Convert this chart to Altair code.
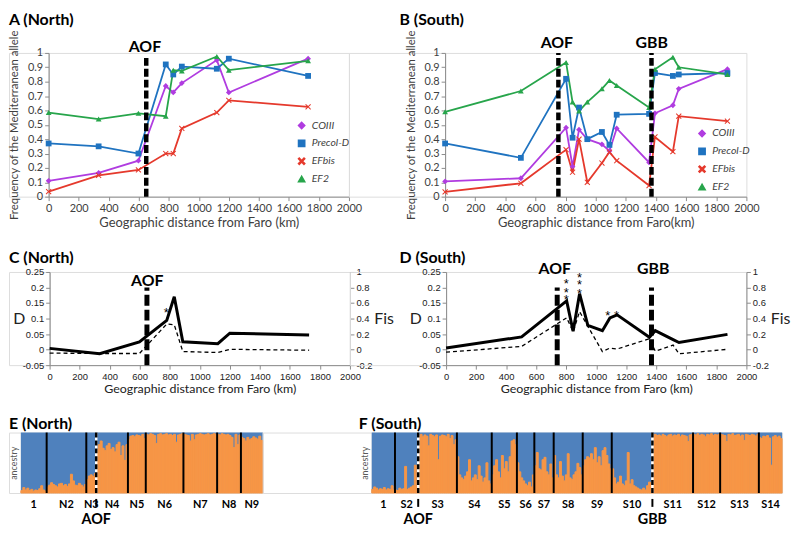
import altair as alt
import pandas as pd

# ------------------------------------------------------------------ data
SERIES = ["COIII", "Precol-D", "EFbis", "EF2"]

north_km = [0, 333, 598, 780, 830, 887, 1120, 1200, 1728]
north_coiii = [0.11, 0.165, 0.25, 0.77, 0.725, 0.79, 0.95, 0.725, 0.96]
north_precol = [0.37, 0.35, 0.30, 0.92, 0.85, 0.905, 0.89, 0.96, 0.84]
north_efbis = [0.035, 0.148, 0.186, 0.30, 0.30, 0.475, 0.585, 0.67, 0.625]
north_ef2 = [0.585, 0.54, 0.58, 0.56, 0.88, 0.875, 0.975, 0.88, 0.945]

south_km = [0, 503, 803, 846, 889, 944, 1041, 1091, 1139, 1354, 1393, 1512, 1551, 1874]
south_coiii = [0.106, 0.128, 0.48, 0.21, 0.466, 0.40, 0.364, 0.318, 0.475, 0.238, 0.58, 0.636, 0.75, 0.887]
south_precol = [0.37, 0.27, 0.82, 0.41, 0.62, 0.40, 0.45, 0.36, 0.57, 0.576, 0.86, 0.84, 0.85, 0.86]
south_efbis = [0.033, 0.093, 0.327, 0.17, 0.40, 0.10, 0.234, 0.31, 0.25, 0.077, 0.415, 0.313, 0.56, 0.525]
south_ef2 = [0.59, 0.735, 0.934, 0.658, 0.596, 0.658, 0.75, 0.808, 0.773, 0.62, 0.887, 0.97, 0.90, 0.85]

north_D = [0.004, -0.013, 0.025, 0.094, 0.17, 0.025, 0.019, 0.053, 0.047]
north_Fis = [-0.045, -0.05, -0.05, 0.33, 0.32, -0.025, -0.037, 0.004, -0.008]
south_D = [0.005, 0.041, 0.157, 0.059, 0.18, 0.078, 0.061, 0.102, 0.112, 0.040, 0.061, 0.032, 0.023, 0.049]
south_Fis = [-0.033, 0.041, 0.41, 0.23, 0.49, 0.30, -0.025, 0.02, 0.008, 0.14, -0.02, 0.058, -0.054, 0.004]

# significance stars (one entry per asterisk)
north_star_km = [776]
north_star_D = [0.127]
south_star_km = [800, 800, 800, 889, 889, 889, 1076, 1135]
south_star_D = [0.22, 0.193, 0.168, 0.241, 0.217, 0.19, 0.117, 0.117]

# zone boundaries (km) and label positions
A_zone_km = [650]
A_zone_top = [0.97]
A_label_km = [641]
A_labels = ["AOF"]
B_zone_km = [752, 1370]
B_zone_top = [1.0, 1.0]
B_label_km = [742, 1371]
B_labels = ["AOF", "GBB"]
C_zone_km = [648]
C_label_km = [650]
C_labels = ["AOF"]
D_zone_km = [740, 1368]
D_label_km = [724, 1380]
D_labels = ["AOF", "GBB"]

# STRUCTURE ancestry (fraction of the orange cluster per individual)
north_pops = ["1", "N2", "N3", "N4", "N5", "N6", "N7", "N8", "N9"]
north_orange = [
    [0.04, 0.09, 0.05, 0.08, 0.04, 0.06, 0.03, 0.05, 0.04, 0.07, 0.12, 0.05, 0.03],
    [0.10, 0.13, 0.17, 0.14, 0.12, 0.10, 0.15, 0.16, 0.12, 0.14, 0.11, 0.15, 0.31, 0.20, 0.13, 0.12, 0.16, 0.13, 0.10, 0.14],
    [0.22, 0.28, 0.30, 0.27, 0.32],
    [0.72, 0.80, 0.86, 0.74, 0.70, 0.78, 0.82, 0.72, 0.75, 0.68, 0.80, 0.84, 0.62, 0.78, 0.54, 0.80],
    [0.88, 0.94, 0.95, 0.93, 0.96, 0.95, 0.94, 0.97, 0.90],
    [0.97, 0.96, 0.98, 0.97, 0.95, 0.82, 0.97, 0.98, 0.96, 0.97, 0.98, 0.96, 0.97, 0.95, 0.97, 0.84, 0.96, 0.97, 0.98],
    [0.97, 0.96, 0.95, 0.86, 0.97, 0.88, 0.96, 0.97, 0.98, 0.97, 0.96, 0.97, 0.98, 0.96, 0.97, 0.98, 0.97],
    [0.97, 0.96, 0.98, 0.97, 0.96, 0.97, 0.95, 0.92, 0.75, 0.97, 0.80, 0.96],
    [0.92, 0.90, 0.86, 0.92, 0.88, 0.90, 0.93, 0.91, 0.89, 0.94, 0.87],
]
north_zone_after = {"AOF": "N3"}

south_pops = ["1", "S2", "S3", "S4", "S5", "S6", "S7", "S8", "S9", "S10", "S11", "S12", "S13", "S14"]
south_orange = [
    [0.06, 0.10, 0.08, 0.05, 0.07, 0.06, 0.09, 0.05, 0.07, 0.06, 0.12, 0.05],
    [0.05, 0.04, 0.08, 0.06, 0.07, 0.44, 0.06, 0.08, 0.10, 0.12, 0.46, 0.10],
    [0.95, 0.97, 0.93, 0.96, 0.94, 0.78, 0.97, 0.95, 0.93, 0.96, 0.55, 0.94, 0.96, 0.95, 0.93, 0.97, 0.90, 0.95, 0.80, 0.88],
    [0.60, 0.30, 0.25, 0.22, 0.28, 0.35, 0.55, 0.20, 0.25, 0.30, 0.22, 0.45, 0.28, 0.18, 0.25, 0.50, 0.20, 0.15],
    [0.30, 0.45, 0.55, 0.35, 0.25, 0.62, 0.40, 0.52, 0.35, 0.60, 0.86, 0.88, 0.80],
    [0.50, 0.35, 0.25, 0.20, 0.15, 0.12, 0.18, 0.10, 0.30],
    [0.45, 0.67, 0.40, 0.38, 0.55, 0.59, 0.35, 0.30, 0.48, 0.25],
    [0.62, 0.30, 0.25, 0.52, 0.28, 0.20, 0.30, 0.65, 0.25, 0.22, 0.30, 0.35, 0.49, 0.42, 0.30],
    [0.45, 0.55, 0.60, 0.58, 0.65, 0.55, 0.75, 0.50, 0.60, 0.45, 0.70, 0.75, 0.62, 0.48, 0.40],
    [0.40, 0.25, 0.15, 0.18, 0.28, 0.15, 0.12, 0.20, 0.67, 0.15, 0.22, 0.12, 0.10, 0.08, 0.06, 0.05, 0.08, 0.05, 0.12, 0.18, 0.15],
    [0.96, 0.97, 0.95, 0.96, 0.94, 0.97, 0.95, 0.93, 0.96, 0.97, 0.94, 0.96, 0.95, 0.97, 0.93, 0.96, 0.95, 0.94, 0.85, 0.96, 0.97],
    [0.97, 0.96, 0.98, 0.95, 0.97, 0.96, 0.93, 0.97, 0.96, 0.98, 0.95, 0.97, 0.96, 0.97],
    [0.97, 0.96, 0.95, 0.85, 0.97, 0.96, 0.98, 0.95, 0.96, 0.97, 0.94, 0.96, 0.87, 0.97, 0.96, 0.95, 0.97, 0.96, 0.94, 0.97],
    [0.92, 0.90, 0.94, 0.93, 0.95, 0.91, 0.46, 0.93, 0.95, 0.92, 0.94, 0.90],
]
south_zone_after = {"AOF": "S2", "GBB": "S10"}

X_TICKS = [0, 200, 400, 600, 800, 1000, 1200, 1400, 1600, 1800, 2000]
FREQ_TICKS = [0, 0.1, 0.2, 0.3, 0.4, 0.5, 0.6, 0.7, 0.8, 0.9, 1]
D_TICKS = [-0.05, 0, 0.05, 0.1, 0.15, 0.2, 0.25]
FIS_TICKS = [-0.2, 0, 0.2, 0.4, 0.6, 0.8, 1]

# ------------------------------------------------------------------ style
COLORS = ["#B03CE0", "#1F73C0", "#E5392C", "#27A54B"]
XPATH = ("M-1,-0.75L-0.75,-1L0,-0.25L0.75,-1L1,-0.75L0.25,0L1,0.75L0.75,1"
         "L0,0.25L-0.75,1L-1,0.75L-0.25,0Z")
SHAPES = ["diamond", "square", XPATH, "triangle-up"]
BLUE = "#4F81BD"
ORANGE = "#F79646"
FONT = "Lato"
SMALL = "Liberation Sans"
AXC = "#8c8c8c"
TXT = "#404040"
MINUS = "replace(datum.label, '\u2212', '-')"


def spacer(w, h, top=0, bottom=0):
    # invisible block: flush size w x h; its full extent reaches `top` px above
    # and `bottom` px below, which fixes the row band in the outer layout
    return (alt.Chart(pd.DataFrame({"a": [0]}))
            .mark_rect(opacity=0)
            .encode(x=alt.value(0), x2=alt.value(max(w, 1)),
                    y=alt.value(-top), y2=alt.value(h + bottom))
            .properties(width=w, height=h))


def title_text(text, dx, dy, size=16):
    return (alt.Chart(pd.DataFrame({"t": [text]}))
            .mark_text(font=FONT, fontSize=size, fontWeight="bold", align="left",
                       baseline="alphabetic", color="black")
            .encode(x=alt.value(dx), y=alt.value(dy), text="t:N"))


def freq_panel(km, vals, zone_km, zone_top, label_km, labels, label_dy,
               xtitle, ptitle, title_dx, leg_x, leg_y, w, h):
    df = pd.DataFrame([{"km": k, "series": s, "value": v}
                       for s, arr in zip(SERIES, vals) for k, v in zip(km, arr)])
    xsc = alt.Scale(domain=[0, 2000], nice=False, zero=False)
    ysc = alt.Scale(domain=[0, 1], nice=False, zero=False)
    common = dict(grid=False, tickSize=4, tickColor=AXC, domainColor=AXC,
                  labelColor=TXT, labelFont=FONT, labelFontSize=11, labelPadding=2,
                  titleFont=FONT, titleFontWeight="normal", titleColor=TXT,
                  labelOverlap=False, labelFlush=False)
    xax = alt.Axis(values=X_TICKS, format="d", title=xtitle, titleFontSize=13,
                   titlePadding=3, **common)
    yax = alt.Axis(values=FREQ_TICKS, format="~g", title="Frequency of the Mediterranean allele",
                   titleFontSize=11.5, titleAngle=270, titleX=-34, titleY=h / 2,
                   titleBaseline="middle", titleAlign="center", **common)
    cscale = alt.Scale(domain=SERIES, range=COLORS)
    sscale = alt.Scale(domain=SERIES, range=SHAPES)
    leg = alt.Legend(orient="none", legendX=leg_x, legendY=leg_y, title=None,
                     labelFont=FONT, labelFontSize=10.5, labelFontStyle="italic",
                     labelColor=TXT, symbolSize=40, rowPadding=5, labelOffset=5)
    X = alt.X("km:Q", scale=xsc, axis=xax)
    Y = alt.Y("value:Q", scale=ysc, axis=yax)
    base = alt.Chart(df)
    lines = base.mark_line(strokeWidth=1.8).encode(
        x=X, y=Y, color=alt.Color("series:N", scale=cscale, legend=leg), detail="series:N")
    pts = base.mark_point(filled=True, size=34, opacity=1).encode(
        x=X, y=Y,
        color=alt.Color("series:N", scale=cscale, legend=leg),
        shape=alt.Shape("series:N", scale=sscale, legend=leg))
    rdf = pd.DataFrame({"km": zone_km, "value": [0] * len(zone_km), "top": zone_top})
    rules = alt.Chart(rdf).mark_rule(color="black", strokeWidth=4.5, strokeDash=[8, 3]).encode(
        x=X, y=Y, y2="top:Q")
    tdf = pd.DataFrame({"km": label_km, "t": labels})
    texts = alt.Chart(tdf).mark_text(font=FONT, fontSize=16, fontWeight="bold",
                                     baseline="alphabetic", color="black").encode(
        x=X, y=alt.value(label_dy), text="t:N")
    return alt.layer(lines, pts, rules, texts, title_text(ptitle, title_dx, -28)).properties(width=w, height=h)


def dfis_panel(km, D, Fis, zone_km, label_km, labels, label_dy, star_km, star_D,
               ptitle, title_dx, w, h):
    xsc = alt.Scale(domain=[0, 2000], nice=False, zero=False)
    dsc = alt.Scale(domain=[-0.05, 0.25], nice=False, zero=False)
    fsc = alt.Scale(domain=[-0.2, 1], nice=False, zero=False)
    dd = pd.DataFrame({"km": km, "D": D, "Fis": Fis})
    common = dict(grid=False, tickSize=4, tickColor=AXC, domainColor=AXC,
                  labelColor="#222222", labelFont=SMALL, labelFontSize=9.5,
                  labelPadding=2, titleFont=FONT, titleFontWeight="normal",
                  titleColor="#222222", labelOverlap=False, labelFlush=False)
    xax = alt.Axis(values=X_TICKS, format="d", title="Geographic distance from Faro (km)",
                   titleFontSize=12.5, titlePadding=2, **common)
    dax = alt.Axis(values=D_TICKS, format="~g", labelExpr=MINUS, title="D", titleFontSize=16,
                   titleAngle=0, titleX=-31, titleY=h / 2, titleBaseline="middle",
                   titleAlign="center", **common)
    fax = alt.Axis(orient="right", values=FIS_TICKS, format="~g", labelExpr=MINUS, title="Fis",
                   titleFontSize=16, titleAngle=0, titleX=34, titleY=h / 2,
                   titleBaseline="middle", titleAlign="center", **common)
    X = alt.X("km:Q", scale=xsc, axis=xax)
    YD = alt.Y("D:Q", scale=dsc, axis=dax)
    dline = alt.Chart(dd).mark_line(color="black", strokeWidth=3).encode(x=X, y=YD)
    rdf = pd.DataFrame({"km": zone_km, "D": [-0.05] * len(zone_km), "top": [0.2] * len(zone_km)})
    rules = alt.Chart(rdf).mark_rule(color="black", strokeWidth=5, strokeDash=[11, 4]).encode(
        x=X, y=YD, y2="top:Q")
    tdf = pd.DataFrame({"km": label_km, "t": labels})
    texts = alt.Chart(tdf).mark_text(font=FONT, fontSize=16, fontWeight="bold",
                                     baseline="alphabetic", color="black").encode(
        x=X, y=alt.value(label_dy), text="t:N")
    sdf = pd.DataFrame({"km": star_km, "D": star_D})
    stars = alt.Chart(sdf).mark_text(text="*", font=SMALL, fontSize=13, fill="black",
                                     baseline="middle", dy=3).encode(x=X, y=YD)
    left = alt.layer(dline, rules, texts, stars, title_text(ptitle, title_dx, -9))
    fline = alt.Chart(dd).mark_line(color="black", strokeWidth=1.3, strokeDash=[4, 3]).encode(
        x=X, y=alt.Y("Fis:Q", scale=fsc, axis=fax))
    return alt.layer(left, fline).resolve_scale(y="independent").properties(width=w, height=h)


def ancestry_panel(names, orange, zone_after, ptitle, title_dx, w, h):
    bars, bounds, mids = [], [], []
    i = 0
    for name, vals in zip(names, orange):
        s = i
        for v in vals:
            bars.append({"i0": i, "i1": i + 1, "f": v})
            i += 1
        bounds.append(i)
        mids.append((s + i) / 2)
    n = i
    zone_idx = {z: bounds[names.index(p)] for z, p in zone_after.items()}
    solid = [b for b in bounds[:-1] if b not in zone_idx.values()]
    xsc = alt.Scale(domain=[0, n], nice=False, zero=False)
    ysc = alt.Scale(domain=[0, 1], nice=False, zero=False)
    yax = alt.Axis(title="ancestry", labels=False, ticks=False, domain=False, grid=False,
                   titleX=-7, titleY=h / 2, titleAngle=270, titleBaseline="middle",
                   titleAlign="center", titleFont=FONT, titleFontSize=9,
                   titleFontWeight="normal", titleColor="#595959")
    xax = alt.Axis(labels=False, ticks=False, domain=False, grid=False, title=None)
    X = alt.X("i0:Q", scale=xsc, axis=xax)
    Y = alt.Y("f:Q", scale=ysc, axis=yax)
    bg = alt.Chart(pd.DataFrame({"i0": [0], "i1": [n], "f": [0], "top": [1]})).mark_rect(color=BLUE).encode(
        x=X, x2="i1:Q", y=Y, y2="top:Q")
    ob = alt.Chart(pd.DataFrame(bars)).mark_rect(color=ORANGE, stroke=ORANGE, strokeWidth=1).encode(
        x=X, x2="i1:Q", y=Y, y2=alt.datum(0))
    sr = alt.Chart(pd.DataFrame({"i0": solid, "f": [0] * len(solid), "top": [1] * len(solid)})).mark_rule(
        color="black", strokeWidth=2).encode(x=X, y=Y, y2="top:Q")
    zdf = pd.DataFrame({"i0": list(zone_idx.values()), "t": list(zone_idx.keys()),
                        "f": [0] * len(zone_idx), "top": [1] * len(zone_idx)})
    zw = alt.Chart(zdf).mark_rule(color="white", strokeWidth=2.5).encode(x=X, y=Y, y2="top:Q")
    zb = alt.Chart(zdf).mark_rule(color="black", strokeWidth=2.5, strokeDash=[5, 3]).encode(
        x=X, y=Y, y2="top:Q")
    zt = alt.Chart(zdf).mark_rule(color="black", strokeWidth=2).encode(
        x=X, y=alt.value(h + 6), y2=alt.value(h + 14))
    ztxt = alt.Chart(zdf).mark_text(font=FONT, fontSize=14.5, fontWeight="bold",
                                    baseline="alphabetic", color="black").encode(
        x=X, y=alt.value(h + 31), text="t:N")
    ldf = pd.DataFrame({"i0": mids, "t": names})
    ltxt = alt.Chart(ldf).mark_text(font=FONT, fontSize=11, fontWeight="bold",
                                    baseline="alphabetic", color="black").encode(
        x=X, y=alt.value(h + 15), text="t:N")
    return alt.layer(bg, ob, sr, zw, zb, zt, ztxt, ltxt,
                     title_text(ptitle, title_dx, -3.5)).properties(width=w, height=h)


# ------------------------------------------------------------------ panels
A = freq_panel(north_km, [north_coiii, north_precol, north_efbis, north_ef2],
               A_zone_km, A_zone_top, A_label_km, A_labels, -1,
               "Geographic distance from Faro (km)", "A (North)", -40, 250, 68, 303, 145)
B = freq_panel(south_km, [south_coiii, south_precol, south_efbis, south_ef2],
               B_zone_km, B_zone_top, B_label_km, B_labels, -5,
               "Geographic distance from Faro(km)", "B (South)", -46, 254, 76, 304, 145)
C = dfis_panel(north_km, north_D, north_Fis, C_zone_km, C_label_km, C_labels, 14,
               north_star_km, north_star_D, "C (North)", -41, 303, 94)
D = dfis_panel(south_km, south_D, south_Fis, D_zone_km, D_label_km, D_labels, 2,
               south_star_km, south_star_D, "D (South)", -47, 303, 94)
E = ancestry_panel(north_pops, north_orange, north_zone_after, "E (North)", -12, 244, 61)
F = ancestry_panel(south_pops, south_orange, south_zone_after, "F (South)", -13, 414, 61)

RES = dict(color="independent", shape="independent")

# row bands (svg px): row1 0-232 (plot top 42), row2 232-402 (plot top 261), row3 402-515 (plot top 421)
row1 = alt.hconcat(spacer(40, 145, top=42, bottom=45), A, spacer(97, 145), B,
                   spacing=0, bounds="flush").resolve_scale(**RES).resolve_legend(**RES)
row2 = alt.hconcat(spacer(41, 94, top=29, bottom=47), C, spacer(97, 94), D,
                   spacing=0, bounds="flush")
row3 = alt.hconcat(spacer(12, 61, top=19, bottom=34), E, spacer(110, 61), F,
                   spacing=0, bounds="flush")

chart = alt.vconcat(row1, row2, row3, spacing=0, bounds="full") \
    .resolve_scale(**RES).resolve_legend(**RES) \
    .properties(padding={"left": 0, "top": 0, "right": 0, "bottom": 0}) \
    .configure_view(stroke="transparent") \
    .configure(font=FONT)

chart.save("out.html", embed_options={"renderer": "svg", "actions": False})
